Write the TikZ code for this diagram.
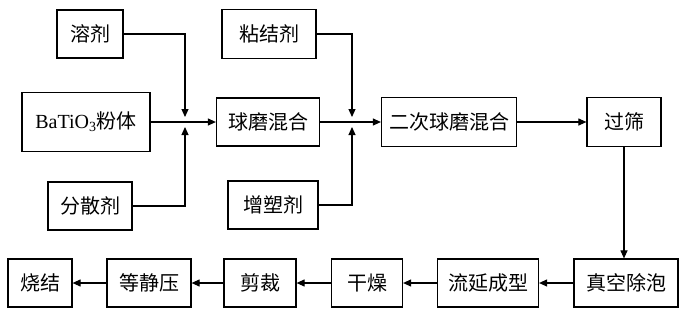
\documentclass[tikz,border=0pt]{standalone}
\usepackage{fontspec}
\setmainfont{Liberation Serif}
\newfontfamily\cjk{Noto Sans CJK SC}
\usetikzlibrary{positioning, arrows.meta}

\begin{document}
\begin{tikzpicture}[
    x=1pt, y=-1pt,
    >={Triangle[length=8pt, width=7pt]},
    stepbox/.style={draw, rectangle, line width=1.2pt, inner sep=0pt, font=\cjk\fontsize{20}{22}\selectfont, fill=white},
    mainarrow/.style={->, line width=1.1pt, black},
    feedarrow/.style={->, line width=1.1pt, black, shorten >=5pt}
]
\useasboundingbox (0,0) rectangle (686,322);

% ==========================================
% First mixing : solvent, powder, dispersant
% ==========================================
\node[stepbox, minimum width=66pt, minimum height=48pt] (solvent) at (90,34) {溶剂};
\node[stepbox, minimum width=128pt, minimum height=59pt] (powder) at (86,122) {{\rmfamily BaTiO\textsubscript{3}}粉体};
\node[stepbox, minimum width=84pt, minimum height=48pt] (dispersant) at (90,206) {分散剂};
\node[stepbox, minimum width=103pt, minimum height=48pt] (mill1) at (268,122) {球磨混合};

\coordinate (j1) at (185,122);
\draw[feedarrow] (solvent.east) -| (j1);
\draw[feedarrow] (dispersant.east) -| (j1);
\draw[mainarrow] (powder.east) -- (mill1.west);

% ==========================================
% Second mixing : binder, plasticizer
% ==========================================
\node[stepbox, minimum width=94pt, minimum height=49pt] (binder) at (269,34) {粘结剂};
\node[stepbox, minimum width=90pt, minimum height=48pt] (plasticizer) at (273,205) {增塑剂};
\node[stepbox, minimum width=135pt, minimum height=49pt] (mill2) at (449,122) {二次球磨混合};
\node[stepbox, minimum width=74pt, minimum height=49pt] (sieve) at (624,122) {过筛};

\coordinate (j2) at (352,122);
\draw[feedarrow] (binder.east) -| (j2);
\draw[feedarrow] (plasticizer.east) -| (j2);
\draw[mainarrow] (mill1.east) -- (mill2.west);
\draw[mainarrow] (mill2.east) -- (sieve.west);

% ==========================================
% Bottom row : casting and firing
% ==========================================
\node[stepbox, minimum width=104pt, minimum height=48pt] (degas) at (626,283) {真空除泡};
\node[stepbox, minimum width=101pt, minimum height=48pt] (casting) at (488,283) {流延成型};
\node[stepbox, minimum width=71pt, minimum height=48pt] (drying) at (367,283) {干燥};
\node[stepbox, minimum width=72pt, minimum height=48pt] (cutting) at (260,283) {剪裁};
\node[stepbox, minimum width=84pt, minimum height=48pt] (pressing) at (149,283) {等静压};
\node[stepbox, minimum width=64pt, minimum height=48pt] (sintering) at (40,283) {烧结};

\draw[mainarrow] (sieve.south) -- (sieve.south |- degas.north);
\draw[mainarrow] (degas.west) -- (casting.east);
\draw[mainarrow] (casting.west) -- (drying.east);
\draw[mainarrow] (drying.west) -- (cutting.east);
\draw[mainarrow] (cutting.west) -- (pressing.east);
\draw[mainarrow] (pressing.west) -- (sintering.east);

\end{tikzpicture}
\end{document}
